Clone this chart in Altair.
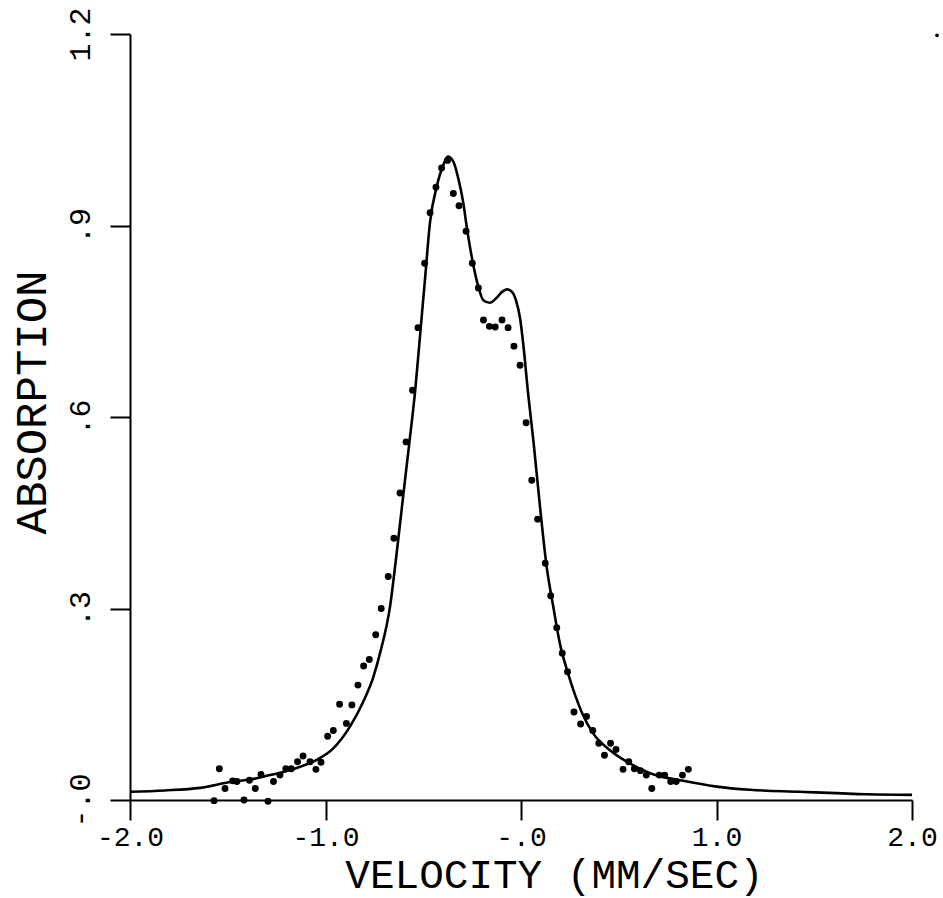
import altair as alt
import pandas as pd

# Measured data points (velocity mm/s, absorption)
pt_x = [-1.570, -1.543, -1.514, -1.475, -1.453, -1.417, -1.389, -1.359, -1.330, -1.294,
        -1.266, -1.233, -1.203, -1.175, -1.143, -1.115, -1.079, -1.049, -1.023, -0.989,
        -0.960, -0.928, -0.893, -0.865, -0.834, -0.805, -0.776, -0.743, -0.715, -0.679,
        -0.650, -0.619, -0.588, -0.555, -0.527, -0.493, -0.465, -0.435, -0.406, -0.376,
        -0.346, -0.317, -0.281, -0.249, -0.218, -0.192, -0.162, -0.132, -0.097, -0.066,
        -0.036, -0.005, 0.026, 0.055, 0.085, 0.124, 0.152, 0.183, 0.211, 0.238,
        0.271, 0.305, 0.335, 0.367, 0.398, 0.427, 0.458, 0.486, 0.522, 0.551,
        0.580, 0.611, 0.641, 0.669, 0.707, 0.735, 0.766, 0.794, 0.826, 0.856]
pt_y = [-0.001, 0.049, 0.018, 0.030, 0.029, 0.000, 0.031, 0.018, 0.040, -0.002,
        0.029, 0.039, 0.049, 0.049, 0.060, 0.069, 0.060, 0.048, 0.059, 0.100,
        0.109, 0.150, 0.120, 0.149, 0.180, 0.210, 0.220, 0.259, 0.300, 0.350,
        0.410, 0.481, 0.561, 0.642, 0.740, 0.841, 0.920, 0.960, 0.990, 1.002,
        0.950, 0.931, 0.891, 0.841, 0.802, 0.752, 0.742, 0.741, 0.752, 0.740,
        0.711, 0.681, 0.591, 0.501, 0.440, 0.371, 0.320, 0.270, 0.230, 0.201,
        0.138, 0.119, 0.131, 0.109, 0.089, 0.070, 0.089, 0.079, 0.048, 0.060,
        0.049, 0.046, 0.039, 0.018, 0.039, 0.039, 0.029, 0.029, 0.039, 0.048]

# Fitted curve
fit_x = [-2.000, -1.821, -1.642, -1.473, -1.386, -1.299, -1.216, -1.130, -1.045, -0.960,
         -0.875, -0.807, -0.755, -0.721, -0.670, -0.634, -0.602, -0.571, -0.541, -0.514,
         -0.491, -0.465, -0.431, -0.397, -0.374, -0.346, -0.321, -0.295, -0.279, -0.249,
         -0.218, -0.193, -0.159, -0.124, -0.097, -0.072, -0.046, -0.026, -0.005, 0.012,
         0.037, 0.063, 0.097, 0.131, 0.165, 0.199, 0.238, 0.276, 0.310, 0.370,
         0.455, 0.541, 0.660, 0.830, 1.001, 1.171, 1.427, 1.768, 2.000]
fit_y = [0.013, 0.015, 0.019, 0.029, 0.032, 0.038, 0.044, 0.052, 0.063, 0.081,
         0.115, 0.154, 0.193, 0.230, 0.303, 0.392, 0.478, 0.560, 0.642, 0.736,
         0.816, 0.906, 0.961, 0.995, 1.008, 1.000, 0.974, 0.935, 0.901, 0.846,
         0.804, 0.783, 0.779, 0.787, 0.796, 0.800, 0.796, 0.783, 0.755, 0.713,
         0.635, 0.564, 0.460, 0.366, 0.303, 0.245, 0.201, 0.165, 0.138, 0.104,
         0.078, 0.060, 0.042, 0.030, 0.021, 0.016, 0.013, 0.009, 0.008]

# stray plotter dot at top right
stray_x = [2.128]
stray_y = [1.198]

x_ticks = [-2, -1, 0, 1, 2]
x_tick_labels = ["-2.0", "-1.0", "-.0", "1.0", "2.0"]
y_ticks = [0, 0.3, 0.6, 0.9, 1.2]
y_tick_labels = ["-.0", ".3", ".6", ".9", "1.2"]

def label_expr(vals, labels):
    parts = []
    for v, l in zip(vals, labels):
        parts.append(f"abs(datum.value - ({v})) < 1e-6 ? '{l}' : ")
    return "".join(parts) + "''"

FONT = "Liberation Mono"

pts = pd.DataFrame({"v": pt_x, "a": pt_y})
fit = pd.DataFrame({"v": fit_x, "a": fit_y})
stray = pd.DataFrame({"v": stray_x, "a": stray_y})

xscale = alt.Scale(domain=[-2, 2], nice=False, zero=False)
yscale = alt.Scale(domain=[0, 1.2], nice=False, zero=False)

xaxis = alt.Axis(
    values=x_ticks, labelExpr=label_expr(x_ticks, x_tick_labels),
    title="VELOCITY (MM/SEC)", titleFont=FONT, titleFontSize=41, titleFontWeight="normal",
    titleColor="black", titleX=424, titleY=87, titleBaseline="alphabetic", titleAlign="center",
    labelFont=FONT, labelFontSize=28, labelColor="black", labelPadding=3,
    labelFlush=False, labelOverlap=False,
    domainColor="black", domainWidth=2, tickColor="black", tickWidth=2, tickSize=20,
    grid=False,
)
yaxis = alt.Axis(
    values=y_ticks, labelExpr=label_expr(y_ticks, y_tick_labels),
    title="ABSORPTION", titleFont=FONT, titleFontSize=44, titleFontWeight="normal",
    titleColor="black", titleAngle=270, titleX=-85, titleY=368,
    titleBaseline="alphabetic", titleAlign="center",
    labelFont=FONT, labelFontSize=30, labelColor="black", labelAngle=270,
    labelAlign="center", labelBaseline="alphabetic", labelPadding=21,
    labelFlush=False, labelOverlap=False,
    domainColor="black", domainWidth=2, tickColor="black", tickWidth=2, tickSize=20,
    grid=False,
)

line = alt.Chart(fit).mark_line(color="black", strokeWidth=2.6, interpolate="monotone").encode(
    x=alt.X("v:Q", scale=xscale, axis=xaxis),
    y=alt.Y("a:Q", scale=yscale, axis=yaxis),
)
dots = alt.Chart(pts).mark_circle(color="black", opacity=1, size=48).encode(
    x=alt.X("v:Q", scale=xscale),
    y=alt.Y("a:Q", scale=yscale),
)
sdot = alt.Chart(stray).mark_circle(color="black", opacity=1, size=14).encode(
    x=alt.X("v:Q", scale=xscale),
    y=alt.Y("a:Q", scale=yscale),
)

chart = alt.layer(line, dots, sdot).properties(
    width=782, height=766,
    autosize=alt.AutoSizeParams(type="none"),
    padding={"left": 130, "top": 34, "right": 31, "bottom": 98},
    background="white",
).configure_view(stroke=None)

chart.save("out.html", embed_options={"renderer": "svg", "actions": False})
